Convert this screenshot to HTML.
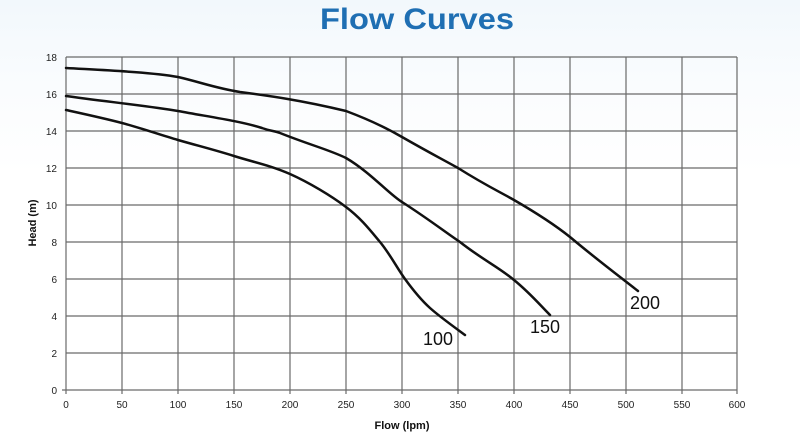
<!DOCTYPE html>
<html><head><meta charset="utf-8"><style>
body{margin:0;background:#fff;}
svg{display:block;font-family:"Liberation Sans",Arial,sans-serif;}
</style></head><body>
<svg width="800" height="434" viewBox="0 0 800 434">
<defs><linearGradient id="bg" x1="0" y1="0" x2="0" y2="1"><stop offset="0" stop-color="#f2f8fc"/><stop offset="0.2" stop-color="#fafcfe"/><stop offset="0.4" stop-color="#fff"/></linearGradient></defs>
<rect width="800" height="434" fill="url(#bg)"/>
<text x="417" y="29" text-anchor="middle" font-size="30" font-weight="bold" fill="#1f6fb3" textLength="194" lengthAdjust="spacingAndGlyphs">Flow Curves</text>
<g stroke="#6a6a6a" stroke-width="1.2">
<line x1="66" y1="57" x2="737" y2="57"/><line x1="66" y1="94" x2="737" y2="94"/><line x1="66" y1="131" x2="737" y2="131"/><line x1="66" y1="168" x2="737" y2="168"/><line x1="66" y1="205" x2="737" y2="205"/><line x1="66" y1="242" x2="737" y2="242"/><line x1="66" y1="279" x2="737" y2="279"/><line x1="66" y1="316" x2="737" y2="316"/><line x1="66" y1="353" x2="737" y2="353"/><line x1="62" y1="390" x2="737" y2="390"/>
<line x1="66" y1="57" x2="66" y2="394"/><line x1="122" y1="57" x2="122" y2="394"/><line x1="178" y1="57" x2="178" y2="394"/><line x1="234" y1="57" x2="234" y2="394"/><line x1="290" y1="57" x2="290" y2="394"/><line x1="346" y1="57" x2="346" y2="394"/><line x1="402" y1="57" x2="402" y2="394"/><line x1="458" y1="57" x2="458" y2="394"/><line x1="514" y1="57" x2="514" y2="394"/><line x1="570" y1="57" x2="570" y2="394"/><line x1="626" y1="57" x2="626" y2="394"/><line x1="682" y1="57" x2="682" y2="394"/><line x1="737" y1="57" x2="737" y2="394"/>
</g>
<g font-size="10" fill="#222" text-anchor="end">
<text x="57" y="61">18</text><text x="57" y="98">16</text><text x="57" y="135">14</text><text x="57" y="172">12</text><text x="57" y="209">10</text><text x="57" y="246">8</text><text x="57" y="283">6</text><text x="57" y="320">4</text><text x="57" y="357">2</text><text x="57" y="394">0</text>
</g>
<g font-size="10" fill="#222" text-anchor="middle">
<text x="66" y="408">0</text><text x="122" y="408">50</text><text x="178" y="408">100</text><text x="234" y="408">150</text><text x="290" y="408">200</text><text x="346" y="408">250</text><text x="402" y="408">300</text><text x="458" y="408">350</text><text x="514" y="408">400</text><text x="570" y="408">450</text><text x="626" y="408">500</text><text x="682" y="408">550</text><text x="737" y="408">600</text>
</g>
<text x="402" y="429" font-size="11" font-weight="bold" text-anchor="middle" fill="#111">Flow (lpm)</text>
<text transform="translate(36,223) rotate(-90)" font-size="11" font-weight="bold" text-anchor="middle" fill="#111">Head (m)</text>
<g fill="none" stroke="#111" stroke-width="2.5" stroke-linejoin="round" stroke-linecap="round">
<path d="M66,68 C100,70 150,72 178,77 C200,82 215,88 240,92 C270,96 300,100 346,111 C370,120 390,130 402,137 C430,153 440,158 458,168 C485,185 500,192 514,200 C540,215 555,225 570,237 C595,258 615,273 638,291"/>
<path d="M66,96 C100,101 150,106 178,111 C210,117 240,121 262,128 C270,131 275,131 280,133 C310,145 330,150 346,158 C370,172 390,195 402,202 C430,220 445,232 460,242 C480,258 500,268 514,280 C530,293 540,305 550,315"/>
<path d="M66,110 C75,112 103,118 122,123 C141,128 159,134.5 178,140 C197,145.5 215,150 234,156 C253,162 271,165.5 290,174 C309,182.5 331,195.7 346,207 C361,218.3 370,230 380,242 C390,254 397,268 405,279 C413,290 420,299 430,308 C440,317 459,330.5 465,335"/>
</g>
<g font-size="18" fill="#111">
<text x="423" y="345">100</text><text x="530" y="333">150</text><text x="630" y="309">200</text>
</g>
</svg>
</body></html>
